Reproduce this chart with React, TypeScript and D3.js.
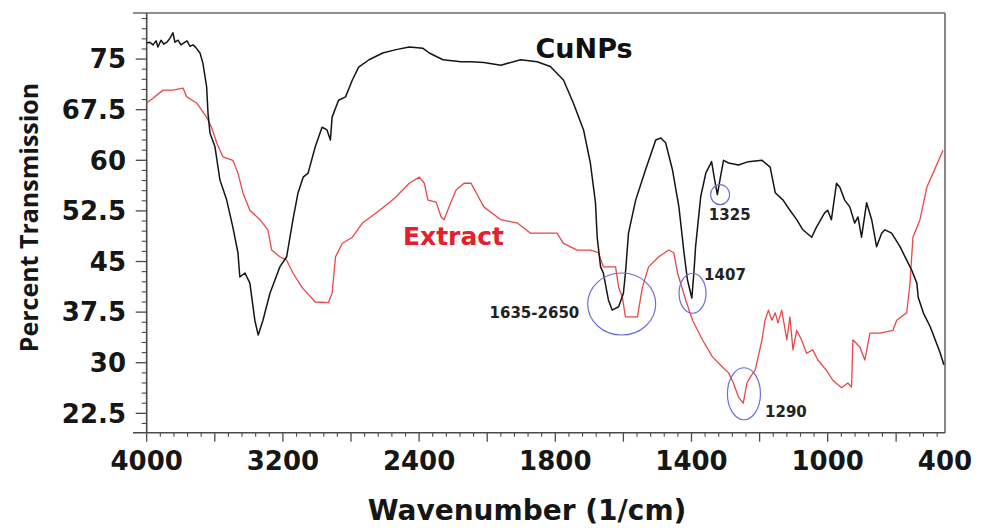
import React from 'react';
import * as d3 from 'd3';

// ---- Data ----
const xTickLabels = [4000, 3200, 2400, 1800, 1400, 1000, 400];
const xMajorTicks = [4000, 3600, 3200, 2800, 2400, 2100, 1800, 1600, 1400, 1200, 1000, 650];
const yTickValues = [22.5, 30, 37.5, 45, 52.5, 60, 67.5, 75];

const cunpsWn = [
  4000, 3981, 3963, 3945, 3934, 3916, 3899, 3881, 3863, 3846,
  3834, 3816, 3799, 3781, 3763, 3746, 3728, 3711, 3687, 3670,
  3648, 3640, 3628, 3599, 3570, 3530, 3494, 3464, 3453, 3423,
  3394, 3365, 3345, 3317, 3276, 3218, 3178, 3141, 3111, 3081,
  3052, 3010, 2970, 2941, 2921, 2911, 2873, 2832, 2792, 2755,
  2694, 2614, 2535, 2458, 2383, 2355, 2295, 2215, 2171, 2115,
  2040, 1953, 1880, 1822, 1776, 1747, 1717, 1697, 1682, 1677,
  1667, 1659, 1644, 1633, 1614, 1600, 1594, 1585, 1564, 1535,
  1505, 1490, 1476, 1456, 1437, 1422, 1412, 1399, 1393, 1388,
  1373, 1358, 1341, 1332, 1324, 1315, 1306, 1291, 1262, 1233,
  1193, 1169, 1154, 1131, 1111, 1091, 1073, 1047, 1033, 1009,
  1000, 981, 955, 938, 913, 887, 862, 845, 827, 801,
  775, 750, 724, 707, 673, 630, 596, 570, 544, 537,
  511, 475, 424, 406,
];
const cunpsT = [
  77.4, 77.5, 77.1, 77.7, 76.8, 77.8, 77.2, 77.5, 78.1, 78.9,
  77.5, 77.8, 77.1, 77.4, 77.7, 76.9, 77.1, 76.7, 75.9, 74.4,
  70.9, 67.0, 64.0, 62.0, 57.1, 54.1, 50.1, 46.3, 42.7, 43.3,
  41.8, 36.3, 34.1, 36.3, 40.3, 44.2, 45.7, 51.2, 55.2, 57.5,
  58.1, 62.0, 64.9, 64.5, 63.0, 66.4, 68.9, 69.4, 71.9, 73.8,
  74.9, 75.9, 76.4, 76.8, 76.6, 75.9, 74.9, 74.6, 74.6, 74.5,
  74.1, 74.9, 74.6, 73.9, 71.9, 68.5, 64.5, 59.6, 53.7, 48.6,
  44.2, 43.3, 39.3, 37.8, 38.3, 40.3, 43.3, 49.2, 54.1, 58.6,
  63.0, 63.3, 62.6, 58.6, 53.1, 46.3, 42.3, 39.6, 43.3, 47.2,
  54.6, 58.1, 59.8, 57.1, 54.9, 57.5, 60.0, 59.6, 59.3, 59.8,
  60.0, 59.0, 55.2, 54.1, 52.6, 51.2, 49.7, 48.6, 50.1, 52.2,
  52.6, 51.2, 56.6, 56.0, 54.1, 53.1, 50.7, 51.6, 48.6, 53.7,
  51.2, 47.2, 49.2, 49.7, 49.2, 47.2, 45.2, 43.7, 41.8, 39.7,
  37.4, 35.3, 31.4, 29.7,
];

const extractWn = [
  4000, 3963, 3904, 3846, 3787, 3765, 3707, 3648, 3619, 3589,
  3552, 3494, 3464, 3435, 3394, 3335, 3288, 3266, 3218, 3178,
  3141, 3089, 3010, 2933, 2911, 2891, 2851, 2792, 2733, 2653,
  2576, 2535, 2458, 2399, 2377, 2361, 2325, 2303, 2290, 2268,
  2237, 2202, 2171, 2115, 2040, 1967, 1909, 1852, 1795, 1776,
  1736, 1697, 1673, 1659, 1623, 1614, 1603, 1594, 1559, 1544,
  1526, 1496, 1467, 1452, 1441, 1417, 1397, 1368, 1339, 1310,
  1291, 1277, 1262, 1248, 1237, 1227, 1213, 1193, 1184, 1174,
  1164, 1154, 1146, 1135, 1120, 1111, 1102, 1091, 1077, 1062,
  1044, 1029, 1004, 974, 929, 897, 878, 871, 835, 810,
  784, 733, 666, 647, 596, 579, 564, 528, 493, 461,
  410,
];
const extractT = [
  68.5, 69.2, 70.4, 70.4, 70.7, 69.4, 68.5, 66.4, 64.9, 62.6,
  60.5, 60.0, 58.1, 55.2, 52.6, 51.2, 49.7, 46.7, 45.7, 45.2,
  43.3, 41.2, 39.0, 38.9, 40.3, 45.7, 47.7, 48.6, 50.7, 52.2,
  53.7, 54.6, 56.6, 57.5, 56.6, 54.1, 53.8, 51.6, 51.2, 53.1,
  55.6, 56.6, 56.6, 53.1, 51.2, 50.7, 49.2, 49.2, 49.2, 47.7,
  46.7, 46.7, 46.3, 44.2, 44.2, 41.2, 39.7, 36.8, 36.8, 41.2,
  44.2, 45.7, 46.7, 46.3, 43.3, 39.3, 36.3, 33.4, 30.9, 29.4,
  28.5, 27.0, 24.9, 24.0, 27.0, 27.9, 28.9, 33.4, 36.3, 37.8,
  36.3, 37.4, 35.9, 37.8, 33.4, 36.8, 31.9, 34.8, 33.4, 31.4,
  31.9, 30.4, 28.9, 27.4, 26.3, 27.0, 26.4, 33.4, 32.3, 30.4,
  34.4, 34.4, 34.8, 36.3, 37.4, 41.8, 48.6, 51.2, 56.0, 58.1,
  61.5,
];

const annoLabels = [
  { text: '1635-2650', wn: 1892, t: 36.6, anchor: 'middle' },
  { text: '1407', wn: 1363, t: 42.3, anchor: 'start' },
  { text: '1325', wn: 1349, t: 51.2, anchor: 'start' },
  { text: '1290', wn: 1184, t: 22.0, anchor: 'start' },
];
const annoEllipses = [
  { wn: 1605, t: 38.7, rx: 34, ry: 31 },
  { wn: 1397, t: 40.3, rx: 13.5, ry: 20 },
  { wn: 1316, t: 54.9, rx: 9.5, ry: 10 },
  { wn: 1246, t: 25.4, rx: 16.5, ry: 26 },
];
const seriesLabels = [
  { text: 'CuNPs', wn: 1887, t: 75.2, color: '#111111' },
  { text: 'Extract', wn: 2495, t: 47.45, color: '#e3202b' },
];

export default function App() {
  const W = 981;
  const H = 528;
  const left = 146.7, right = 945, top = 13, bottom = 432.7;

  const x = d3
    .scaleLinear()
    .domain(xTickLabels)
    .range([146.7, 282.9, 419.1, 555.3, 691.5, 827.7, 945]);
  const y = d3.scaleLinear().domain([19.63, 81.83]).range([bottom, top]);

  const xMinor: number[] = [];
  for (let i = 0; i < xMajorTicks.length - 1; i++) {
    const step = (xMajorTicks[i + 1] - xMajorTicks[i]) / 5;
    for (let k = 1; k < 5; k++) xMinor.push(xMajorTicks[i] + step * k);
  }
  {
    const n = xMajorTicks.length;
    const step = (xMajorTicks[n - 1] - xMajorTicks[n - 2]) / 5;
    for (let v = xMajorTicks[n - 1] + step; v > 400; v += step) xMinor.push(v);
  }
  const yMinor = d3
    .range(21, 81.8, 1.5)
    .filter((v) => Math.abs(((v - 22.5) / 7.5) - Math.round((v - 22.5) / 7.5)) > 1e-6);

  const line = d3
    .line<[number, number]>()
    .x((d) => x(d[0]))
    .y((d) => y(d[1]));

  const cunps: [number, number][] = cunpsWn.map((w, i) => [w, cunpsT[i]]);
  const extract: [number, number][] = extractWn.map((w, i) => [w, extractT[i]]);

  const axisColor = '#4a4a4a';
  const boldFont = "'DejaVu Sans', Verdana, sans-serif";

  return (
    <svg
      width={W}
      height={H}
      style={{ position: 'absolute', left: 0, top: 0, background: '#ffffff' }}
    >
      <rect x={0} y={0} width={W} height={H} fill="#ffffff" />
      {/* frame */}
      <line x1={133} x2={right} y1={top} y2={top} stroke="#6a6a6a" strokeWidth={1.6} />
      <line x1={right} x2={right} y1={top} y2={bottom} stroke="#6a6a6a" strokeWidth={1.6} />
      <line x1={left} x2={left} y1={top} y2={bottom} stroke={axisColor} strokeWidth={1.6} />
      <line x1={133} x2={right} y1={bottom} y2={bottom} stroke={axisColor} strokeWidth={1.6} />

      {/* y ticks */}
      {yTickValues.map((v) => (
        <line key={'ym' + v} x1={left - 11} x2={left} y1={y(v)} y2={y(v)} stroke={axisColor} strokeWidth={1.3} />
      ))}
      {yMinor.map((v) => (
        <line key={'yn' + v} x1={left - 5} x2={left} y1={y(v)} y2={y(v)} stroke={axisColor} strokeWidth={1.1} />
      ))}
      {yTickValues.map((v) => (
        <text
          key={'yl' + v}
          x={126}
          y={y(v)}
          dy="0.36em"
          textAnchor="end"
          fontFamily={boldFont}
          fontWeight="bold"
          fontSize={26}
          fill="#161616"
        >
          {v}
        </text>
      ))}

      {/* x ticks */}
      {xMajorTicks.map((v) => (
        <line key={'xm' + v} x1={x(v)} x2={x(v)} y1={bottom} y2={bottom + 9} stroke={axisColor} strokeWidth={1.3} />
      ))}
      {xMinor.map((v, i) => (
        <line key={'xn' + i} x1={x(v)} x2={x(v)} y1={bottom} y2={bottom + 4} stroke={axisColor} strokeWidth={1.1} />
      ))}
      {xTickLabels.map((v) => (
        <text
          key={'xl' + v}
          x={x(v)}
          y={470}
          textAnchor="middle"
          fontFamily={boldFont}
          fontWeight="bold"
          fontSize={26}
          fill="#161616"
        >
          {v}
        </text>
      ))}

      {/* axis titles */}
      <text
        transform={`translate(38, 217.5) rotate(-90)`}
        textAnchor="middle"
        fontFamily="'Open Sans', sans-serif"
        fontWeight="bold"
        fontSize={25}
        fill="#161616"
      >
        Percent Transmission
      </text>
      <text
        x={527}
        y={520}
        textAnchor="middle"
        fontFamily={boldFont}
        fontWeight="bold"
        fontSize={28}
        fill="#161616"
      >
        Wavenumber (1/cm)
      </text>

      {/* series */}
      <path d={line(extract) || ''} fill="none" stroke="#e8474b" strokeWidth={1.3} strokeLinejoin="round" />
      <path d={line(cunps) || ''} fill="none" stroke="#141414" strokeWidth={1.5} strokeLinejoin="round" />

      {/* annotations */}
      {annoEllipses.map((e, i) => (
        <ellipse
          key={'ae' + i}
          cx={x(e.wn)}
          cy={y(e.t)}
          rx={e.rx}
          ry={e.ry}
          fill="none"
          stroke="#6c6ce0"
          strokeWidth={1.2}
        />
      ))}
      {annoLabels.map((a, i) => (
        <text
          key={'al' + i}
          x={x(a.wn)}
          y={y(a.t)}
          textAnchor={a.anchor}
          fontFamily={boldFont}
          fontWeight="bold"
          fontSize={15}
          fill="#222222"
        >
          {a.text}
        </text>
      ))}
      {seriesLabels.map((s, i) => (
        <text
          key={'sl' + i}
          x={x(s.wn)}
          y={y(s.t)}
          fontFamily={boldFont}
          fontWeight="bold"
          fontSize={i === 0 ? 27 : 25}
          fill={s.color}
        >
          {s.text}
        </text>
      ))}
    </svg>
  );
}
